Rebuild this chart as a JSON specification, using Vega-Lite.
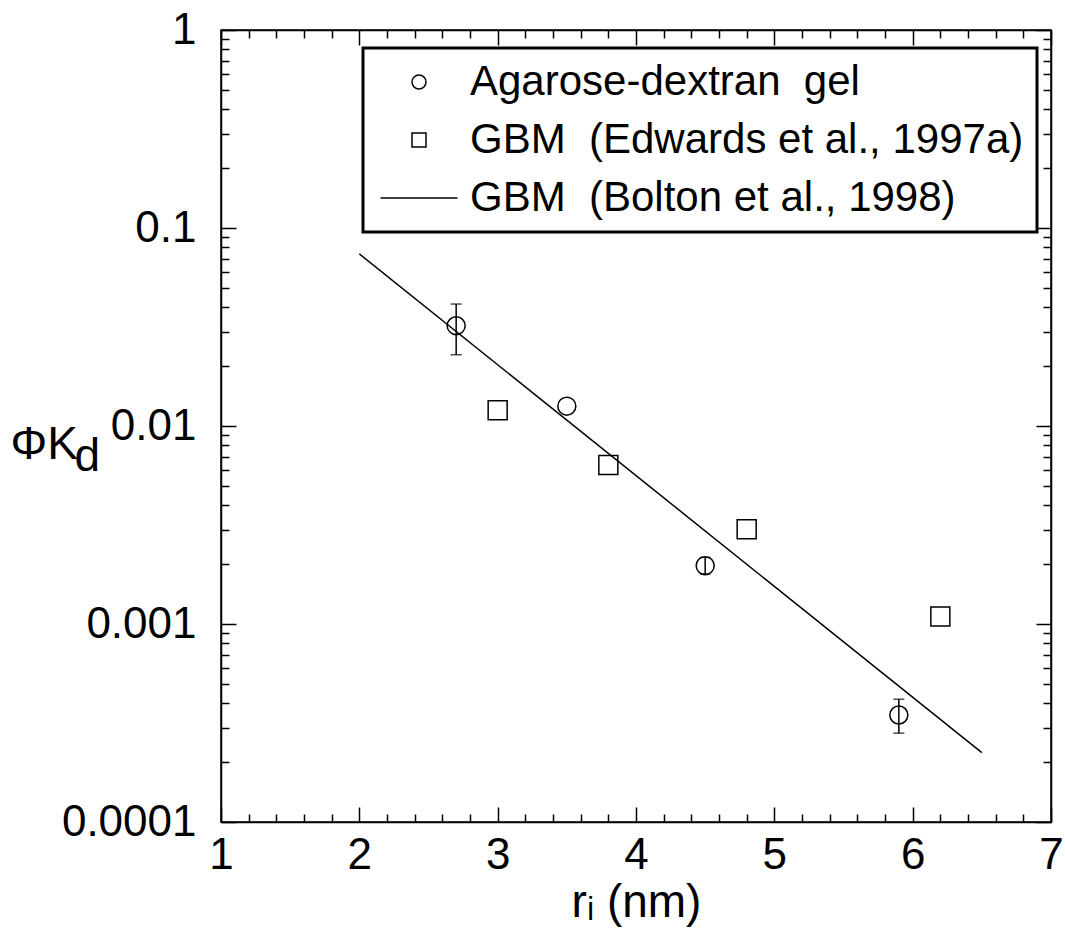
{
  "$schema": "https://vega.github.io/schema/vega-lite/v6.json",
  "width": 830,
  "height": 792,
  "autosize": {"type": "none"},
  "padding": {"left": 221, "top": 30, "right": 14, "bottom": 115},
  "background": "white",
  "config": {
    "view": {"stroke": "black", "strokeWidth": 1.5},
    "font": "Liberation Sans",
    "axis": {
      "labelFont": "Liberation Sans",
      "labelFontSize": 44,
      "labelColor": "black",
      "domainColor": "black",
      "domainWidth": 1.5,
      "tickColor": "black",
      "tickWidth": 1.5,
      "grid": false,
      "labelFlush": false,
      "labelOverlap": false,
      "titleFont": "Liberation Sans",
      "titleFontSize": 46,
      "titleFontWeight": "normal",
      "titleColor": "black"
    },
    "legend": {
      "orient": "none",
      "legendX": 142,
      "legendY": 18,
      "strokeColor": "black",
      "strokeWidth": 3,
      "fillColor": "white",
      "padding": 13,
      "labelFont": "Liberation Sans",
      "labelFontSize": 42,
      "labelColor": "black",
      "labelLimit": 800,
      "symbolSize": 196,
      "symbolOffset": 22,
      "labelOffset": 30,
      "rowPadding": 16,
      "symbolStrokeColor": "black",
      "symbolStrokeWidth": 1.5,
      "symbolFillColor": "white",
      "symbolOpacity": 1
    }
  },
  "datasets": {
    "pts": [
      {"series": "Agarose-dextran gel", "r": 2.7, "phi": 0.0321, "lo": 0.0229, "hi": 0.0413},
      {"series": "Agarose-dextran gel", "r": 3.5, "phi": 0.0126},
      {"series": "Agarose-dextran gel", "r": 4.5, "phi": 0.00197, "lo": 0.00179, "hi": 0.00217},
      {"series": "Agarose-dextran gel", "r": 5.9, "phi": 0.000347, "lo": 0.000281, "hi": 0.000417},
      {"series": "GBM (Edwards et al., 1997a)", "r": 3.0, "phi": 0.0120},
      {"series": "GBM (Edwards et al., 1997a)", "r": 3.8, "phi": 0.00635},
      {"series": "GBM (Edwards et al., 1997a)", "r": 4.8, "phi": 0.00301},
      {"series": "GBM (Edwards et al., 1997a)", "r": 6.2, "phi": 0.00109}
    ],
    "fit": [
      {"series": "GBM (Bolton et al., 1998)", "r": 2.0, "phi": 0.0740},
      {"series": "GBM (Bolton et al., 1998)", "r": 6.5, "phi": 0.000224}
    ]
  },
  "layer": [
    {
      "data": {"name": "pts"},
      "mark": {"type": "point", "opacity": 0},
      "encoding": {
        "x": {
          "field": "r", "type": "quantitative",
          "scale": {"domain": [1, 7], "nice": false, "zero": false},
          "axis": {
            "orient": "bottom",
            "values": [1,1.2,1.4,1.6,1.8,2,2.2,2.4,2.6,2.8,3,3.2,3.4,3.6,3.8,4,4.2,4.4,4.6,4.8,5,5.2,5.4,5.6,5.8,6,6.2,6.4,6.6,6.8,7],
            "labelExpr": "abs(datum.value - round(datum.value)) < 0.001 ? format(datum.value, 'd') : ''",
            "tickSize": {"condition": {"test": "abs(datum.value - round(datum.value)) < 0.001", "value": -15}, "value": -8},
            "labelPadding": 26,
            "title": "rᵢ (nm)",
            "titleY": 80,
            "titleBaseline": "middle"
          }
        },
        "y": {
          "field": "phi", "type": "quantitative",
          "scale": {"type": "log", "domain": [0.0001, 1], "nice": false},
          "axis": {
            "orient": "left",
            "values": [0.0001,0.0002,0.0003,0.0004,0.0005,0.0006,0.0007,0.0008,0.0009,0.001,0.002,0.003,0.004,0.005,0.006,0.007,0.008,0.009,0.01,0.02,0.03,0.04,0.05,0.06,0.07,0.08,0.09,0.1,0.2,0.3,0.4,0.5,0.6,0.7,0.8,0.9,1],
            "labelExpr": "abs(log(datum.value)/LN10 - round(log(datum.value)/LN10)) < 0.001 ? format(datum.value, '~g') : ''",
            "tickSize": {"condition": {"test": "abs(log(datum.value)/LN10 - round(log(datum.value)/LN10)) < 0.001", "value": -15}, "value": -8},
            "labelPadding": 40,
            "title": ["ΦK", "\u200b\u00a0\u00a0\u00a0\u00a0\u00a0d"],
            "titleFontSize": 46,
            "titleAngle": 0,
            "titleAlign": "left",
            "titleBaseline": "middle",
            "titleX": -211,
            "titleY": 414,
            "titleLineHeight": 12
          }
        },
        "shape": {
          "field": "series", "type": "nominal",
          "scale": {"domain": ["Agarose-dextran gel", "GBM (Edwards et al., 1997a)", "GBM (Bolton et al., 1998)"], "range": ["circle", "square", "M-5.5,0L5.5,0"]},
          "legend": {
            "title": null,
            "labelExpr": "replace(replace(datum.label, 'GBM ', 'GBM\u00a0\u00a0'), 'n gel', 'n\u00a0\u00a0gel')"
          }
        }
      }
    },
    {
      "data": {"name": "pts"},
      "transform": [{"filter": "datum.series === 'Agarose-dextran gel'"}],
      "mark": {"type": "point", "shape": "circle", "size": 324, "filled": false, "stroke": "black", "strokeWidth": 1.5, "opacity": 1},
      "encoding": {
        "x": {"field": "r", "type": "quantitative", "axis": null},
        "y": {"field": "phi", "type": "quantitative", "axis": null}
      }
    },
    {
      "data": {"name": "pts"},
      "transform": [{"filter": "datum.series === 'GBM (Edwards et al., 1997a)'"}],
      "mark": {"type": "point", "shape": "square", "size": 361, "filled": false, "stroke": "black", "strokeWidth": 1.5, "opacity": 1},
      "encoding": {
        "x": {"field": "r", "type": "quantitative", "axis": null},
        "y": {"field": "phi", "type": "quantitative", "axis": null}
      }
    },
    {
      "data": {"name": "pts"},
      "transform": [{"filter": "isValid(datum.lo)"}],
      "mark": {"type": "rule", "color": "black", "strokeWidth": 1.5},
      "encoding": {
        "x": {"field": "r", "type": "quantitative", "axis": null},
        "y": {"field": "lo", "type": "quantitative", "axis": null},
        "y2": {"field": "hi"}
      }
    },
    {
      "data": {"name": "pts"},
      "transform": [{"filter": "isValid(datum.lo)"}],
      "mark": {"type": "tick", "orient": "horizontal", "size": 11, "thickness": 1.5, "color": "black"},
      "encoding": {
        "x": {"field": "r", "type": "quantitative", "axis": null},
        "y": {"field": "lo", "type": "quantitative", "axis": null}
      }
    },
    {
      "data": {"name": "pts"},
      "transform": [{"filter": "isValid(datum.hi)"}],
      "mark": {"type": "tick", "orient": "horizontal", "size": 11, "thickness": 1.5, "color": "black"},
      "encoding": {
        "x": {"field": "r", "type": "quantitative", "axis": null},
        "y": {"field": "hi", "type": "quantitative", "axis": null}
      }
    },
    {
      "data": {"name": "fit"},
      "mark": {"type": "line", "color": "black", "strokeWidth": 1.5},
      "encoding": {
        "x": {
          "field": "r", "type": "quantitative",
          "axis": {
            "orient": "top",
            "values": [1,1.2,1.4,1.6,1.8,2,2.2,2.4,2.6,2.8,3,3.2,3.4,3.6,3.8,4,4.2,4.4,4.6,4.8,5,5.2,5.4,5.6,5.8,6,6.2,6.4,6.6,6.8,7],
            "labels": false,
            "title": null,
            "tickSize": {"condition": {"test": "abs(datum.value - round(datum.value)) < 0.001", "value": -15}, "value": -8}
          }
        },
        "y": {
          "field": "phi", "type": "quantitative",
          "axis": {
            "orient": "right",
            "values": [0.0001,0.0002,0.0003,0.0004,0.0005,0.0006,0.0007,0.0008,0.0009,0.001,0.002,0.003,0.004,0.005,0.006,0.007,0.008,0.009,0.01,0.02,0.03,0.04,0.05,0.06,0.07,0.08,0.09,0.1,0.2,0.3,0.4,0.5,0.6,0.7,0.8,0.9,1],
            "labels": false,
            "title": null,
            "tickSize": {"condition": {"test": "abs(log(datum.value)/LN10 - round(log(datum.value)/LN10)) < 0.001", "value": -15}, "value": -8}
          }
        }
      }
    }
  ],
  "resolve": {"axis": {"x": "independent", "y": "independent"}}
}
